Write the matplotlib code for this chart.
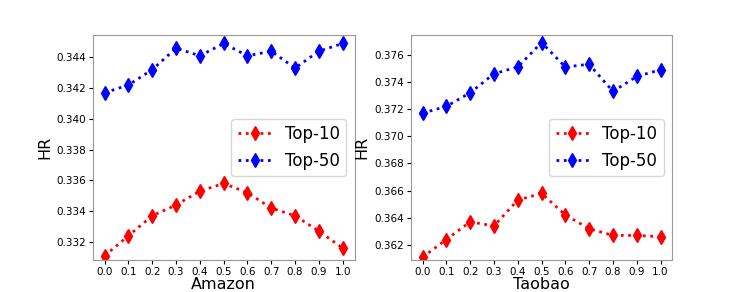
import matplotlib.pyplot as plt

# valores do parametro
x = [0.0, 0.1, 0.2, 0.3, 0.4, 0.5, 0.6, 0.7, 0.8, 0.9, 1.0]

# Amazon
amazon_top10 = [0.3311, 0.3324, 0.3337, 0.3344, 0.3353, 0.3358, 0.3352, 0.3342, 0.3337, 0.3327, 0.3316]
amazon_top50 = [0.3417, 0.3422, 0.3432, 0.3446, 0.3441, 0.3449, 0.3441, 0.3444, 0.3433, 0.3444, 0.3449]

# Taobao
taobao_top10 = [0.3611, 0.3624, 0.3637, 0.3634, 0.3653, 0.3658, 0.3642, 0.3632, 0.3627, 0.3627, 0.3626]
taobao_top50 = [0.3717, 0.3722, 0.3732, 0.3746, 0.3751, 0.3769, 0.3751, 0.3753, 0.3733, 0.3744, 0.3749]

fig = plt.figure(figsize=(7.48, 2.92), dpi=100)
ax1 = fig.add_axes([0.124, 0.110, 0.350, 0.770])
ax2 = fig.add_axes([0.549, 0.110, 0.350, 0.770])

for ax, t10, t50, nome in [(ax1, amazon_top10, amazon_top50, "Amazon"),
                           (ax2, taobao_top10, taobao_top50, "Taobao")]:
    ax.plot(x, t10, color="red", linestyle=":", linewidth=2, marker="d", markersize=7, label="Top-10")
    ax.plot(x, t50, color="blue", linestyle=":", linewidth=2, marker="d", markersize=7, label="Top-50")
    ax.set_xticks(x)
    ax.set_xticklabels(["%.1f" % v for v in x])
    ax.tick_params(labelsize=7.5, length=3, pad=2)
    ax.set_xlabel(nome, fontsize=11.5, labelpad=0)
    ax.set_ylabel("HR", fontsize=11.5, labelpad=3)
    ax.legend(loc="center right", fontsize=12)
    for s in ax.spines.values():
        s.set_color("#999999")

ax1.set_yticks([0.332, 0.334, 0.336, 0.338, 0.340, 0.342, 0.344])
ax1.set_ylim(0.33083, 0.34545)
ax2.set_yticks([0.362, 0.364, 0.366, 0.368, 0.370, 0.372, 0.374, 0.376])
ax2.set_ylim(0.36090, 0.37745)

plt.savefig("out.png", dpi=100)
